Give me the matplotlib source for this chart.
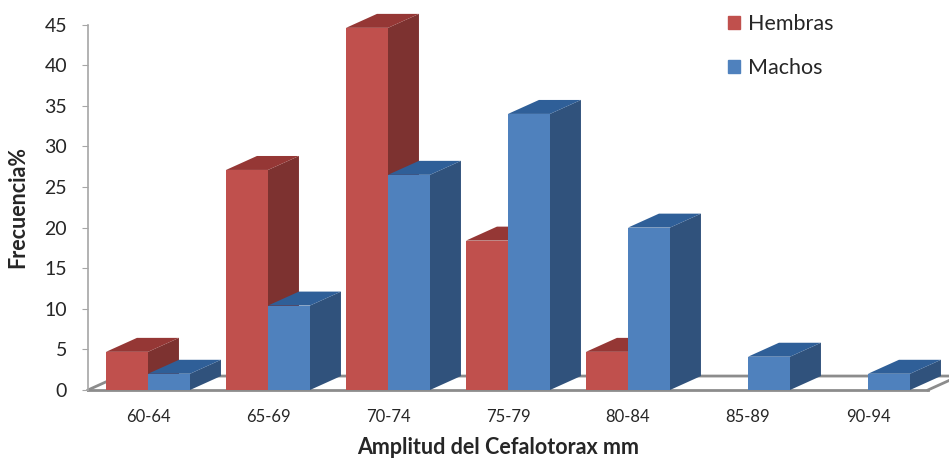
import matplotlib
matplotlib.use("Agg")
import matplotlib.pyplot as plt
from matplotlib.patches import Polygon, Patch

plt.rcParams['font.family'] = ['Lato', 'DejaVu Sans']

categories = ["60-64", "65-69", "70-74", "75-79", "80-84", "85-89", "90-94"]
hembras = [4.7, 27.1, 44.6, 18.4, 4.7, 0, 0]
machos = [2.0, 10.4, 26.5, 34.0, 20.0, 4.1, 2.0]

RED = ("#C0504D", "#953735", "#7D3230")
BLUE = ("#4F81BD", "#2F5F98", "#30527C")
GREY = "#8C8C8C"

# depth of the fake 3d effect, data units
DX = 0.258
DY = 1.72
WIDTH = 0.35


def bar3d(ax, x, value, colors):
    #front, top and side of one bar
    if value <= 0:
        return
    front, top, side = colors
    x0 = x - WIDTH / 2
    x1 = x + WIDTH / 2
    ax.add_patch(Polygon([(x1, 0), (x1 + DX, DY), (x1 + DX, value + DY), (x1, value)],
                         facecolor=side, edgecolor="none", clip_on=False))
    ax.add_patch(Polygon([(x0, value), (x1, value), (x1 + DX, value + DY), (x0 + DX, value + DY)],
                         facecolor=top, edgecolor="none", clip_on=False))
    ax.bar(x, value, WIDTH, color=front, clip_on=False)


def main():
    fig = plt.figure(figsize=(9.49, 4.59), dpi=100)
    ax = fig.add_axes([88 / 949, 1 - 390 / 459, 840 / 949, 365.4 / 459])
    ax.set_xlim(-0.5, 6.5)
    ax.set_ylim(0, 45)

    # floor of the 3d box
    ax.plot([-0.5, -0.5 + DX, 6.5 + DX, 6.5], [0, DY, DY, 0], color=GREY, lw=2,
            clip_on=False, zorder=0.5)

    for i in range(len(categories)):
        bar3d(ax, i - WIDTH / 2, hembras[i], RED)
        bar3d(ax, i + WIDTH / 2, machos[i], BLUE)

    for s in ("top", "right"):
        ax.spines[s].set_visible(False)
    ax.spines["left"].set_color("#A6A6A6")
    ax.spines["left"].set_linewidth(1.2)
    ax.spines["bottom"].set_color(GREY)
    ax.spines["bottom"].set_linewidth(2)
    ax.spines["bottom"].set_zorder(0.6)

    ax.set_yticks(range(0, 50, 5))
    ax.tick_params(axis="y", labelsize=14, length=4, color="#A6A6A6", labelcolor="#262626", pad=11)
    ax.set_xticks(range(len(categories)))
    ax.set_xticklabels(categories)
    ax.tick_params(axis="x", labelsize=12, length=0, labelcolor="#262626", pad=14)

    fig.text(18 / 949, 1 - 207 / 459, "Frecuencia%", rotation=90, ha="center", va="center",
             fontsize=15.5, fontweight="bold", color="#262626")
    fig.text(498 / 949, 1 - 447 / 459, "Amplitud del Cefalotorax mm", ha="center", va="center",
             fontsize=15.5, fontweight="bold", color="#262626")

    handles = [Patch(color=RED[0], label="Hembras"), Patch(color=BLUE[0], label="Machos")]
    fig.legend(handles=handles, loc="upper left", bbox_to_anchor=(709 / 949, 1 + 5 / 459),
               frameon=False, fontsize=15.5, handlelength=0.56, handleheight=0.56,
               handletextpad=0.33, labelspacing=1.1, labelcolor="#262626", borderpad=0.4)

    fig.savefig("out.png", dpi=100)


if __name__ == "__main__":
    main()
